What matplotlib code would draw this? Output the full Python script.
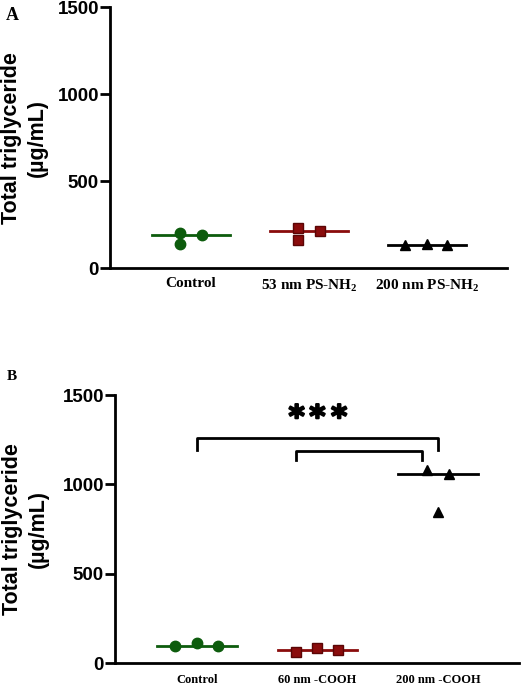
import matplotlib
matplotlib.use("Agg")
import matplotlib.pyplot as plt
import matplotlib.patheffects as pe
import numpy as np

# ---- data ----
cats_a = ["Control", "53 nm PS-NH$_\\mathregular{2}$", "200 nm PS-NH$_\\mathregular{2}$"]
ctrl_a = [206, 139, 192]
nh53_a = [232, 161, 216]
nh200_a = [133, 138, 133]

cats_b = ["Control", "60 nm -COOH", "200 nm -COOH"]
ctrl_b = [95, 114, 94]
cooh60_b = [62, 87, 73]
cooh200_b = [1082, 1058, 845]

yticks = [0, 500, 1000, 1500]
ylabel = "Total triglyceride\n(µg/mL)"

# ---- styling ----
W, H = 521, 685
fig = plt.figure(figsize=(W / 100, H / 100), dpi=100)

green = "#0d5c0d"
red = "#8a0c0c"
black = "#000000"

def setup(ax, ylim_top, label_x):
    ax.set_ylim(0, ylim_top)
    ax.set_yticks(yticks)
    ax.set_yticklabels([str(t) for t in yticks], fontsize=13.5, fontweight="bold",
                       family="Liberation Sans")
    for s in ["top", "right"]:
        ax.spines[s].set_visible(False)
    for s in ["left", "bottom"]:
        ax.spines[s].set_linewidth(2)
    ax.tick_params(axis="y", width=2, length=7, pad=1)
    ax.tick_params(axis="x", length=0)
    ax.set_ylabel(ylabel, fontsize=15.5, fontweight="bold", family="Liberation Sans",
                  linespacing=1.3)
    ax.yaxis.set_label_coords(label_x, 0.5)

def group(ax, pos, vals, offs, marker, color, ec, ms):
    xs = [pos + o for o in offs]
    ax.plot(xs, vals, linestyle="none", marker=marker, color=color,
            markeredgecolor=ec, markersize=ms, zorder=3, clip_on=False)
    med = np.median(vals)
    ax.plot([pos - 0.33, pos + 0.33], [med, med], color=color, lw=2, zorder=2)

# Panel A
axA = fig.add_axes([110 / W, 1 - 268.5 / H, (507 - 110) / W, (268.5 - 7) / H])
setup(axA, 1500, (48 - 110) / 397)
axA.set_xlim(-0.686, 2.678)
group(axA, 0, ctrl_a, [-0.09, -0.09, 0.09], "o", green, green, 7.5)
group(axA, 1, nh53_a, [-0.09, -0.09, 0.09], "s", red, "#5a0505", 7.5)
group(axA, 2, nh200_a, [-0.19, -0.0, 0.17], "^", black, black, 7.5)
axA.set_xticks([0, 1, 2])
axA.set_xticklabels(cats_a, fontsize=11, fontweight="bold", family="Liberation Serif")
axA.tick_params(axis="x", pad=6)
fig.text(12 / W, 1 - 15 / H, "A", fontsize=13, fontweight="bold",
         family="Liberation Serif", ha="center", va="center")

# Panel B
axB = fig.add_axes([115 / W, 1 - 663.3 / H, (519 - 115) / W, (663.3 - 395) / H])
setup(axB, 1500, (49 - 115) / 404)
axB.set_xlim(-0.677, 2.67)
group(axB, 0, ctrl_b, [-0.18, 0.0, 0.175], "o", green, green, 7.5)
group(axB, 1, cooh60_b, [-0.18, 0.0, 0.17], "s", red, "#5a0505", 7.5)
group(axB, 2, cooh200_b, [-0.09, 0.09, 0.0], "^", black, black, 7.5)
axB.set_xticks([0, 1, 2])
axB.set_xticklabels(cats_b, fontsize=9, fontweight="bold", family="Liberation Serif")
axB.tick_params(axis="x", pad=8)
fig.text(12 / W, 1 - 377 / H, "B", fontsize=11, fontweight="bold",
         family="Liberation Serif", ha="center", va="center")

# significance brackets
axB.plot([0, 0, 2, 2], [1194, 1257, 1257, 1194], color="black", lw=2, clip_on=False)
axB.plot([0.82, 0.82, 1.87, 1.87], [1136, 1188, 1188, 1136], color="black", lw=2, clip_on=False)
for xo in [-0.172, 0.0, 0.18]:
    axB.text(1 + xo, 1370, "*", fontsize=22, fontweight="heavy", ha="center",
             va="center", family="DejaVu Sans",
             path_effects=[pe.withStroke(linewidth=1.5, foreground="black")])

fig.savefig("out.png", dpi=100)
